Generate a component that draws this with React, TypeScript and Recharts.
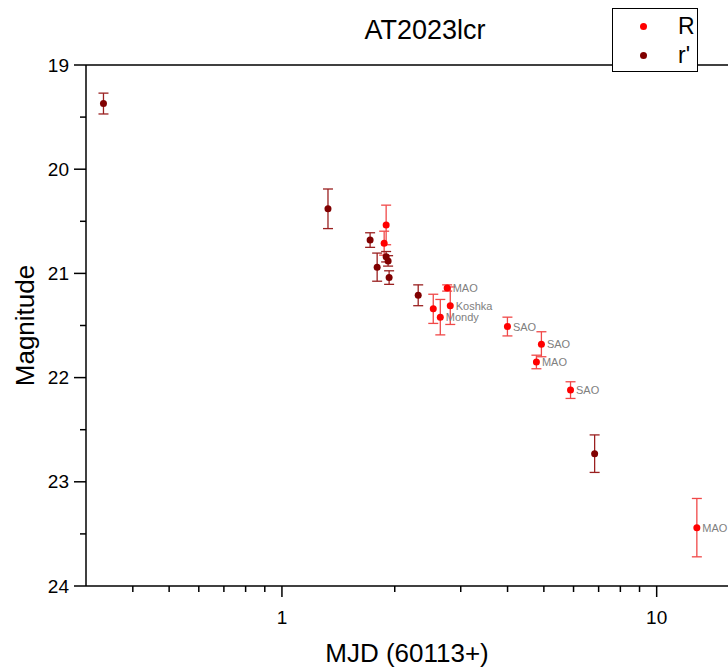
import React from 'react';
import {
  ScatterChart,
  Scatter,
  XAxis,
  YAxis,
  ErrorBar,
  LabelList,
  Label,
  Legend,
  ReferenceLine,
} from 'recharts';

// r' band (dark red)
const rpMjd = [0.334, 1.327, 1.719, 1.795, 1.897, 1.92, 1.932, 2.31, 6.83];
const rpMag = [19.37, 20.38, 20.68, 20.94, 20.84, 20.88, 21.04, 21.21, 22.73];
const rpErr = [0.1, 0.19, 0.07, 0.135, 0.05, 0.05, 0.065, 0.1, 0.18];

// R band (red)
const rMjd = [1.897, 1.874, 2.76, 2.534, 2.646, 2.813, 3.997, 4.925, 4.776, 5.89, 12.8];
const rMag = [20.535, 20.71, 21.14, 21.34, 21.42, 21.31, 21.51, 21.68, 21.85, 22.12, 23.44];
const rErr = [0.19, 0.115, 0.03, 0.14, 0.17, 0.18, 0.09, 0.12, 0.065, 0.08, 0.28];
const rLabel = ['', '', 'MAO', '', 'Mondy', 'Koshka', 'SAO', 'SAO', 'MAO', 'SAO', 'MAO'];

const xTicks = [0.4, 0.5, 0.6, 0.7, 0.8, 0.9, 1, 2, 3, 4, 5, 6, 7, 8, 9, 10];
const xMajor = [1, 10];
const yTicks = [19, 19.5, 20, 20.5, 21, 21.5, 22, 22.5, 23, 23.5, 24];

const rpData = rpMjd.map((x, i) => ({ x, y: rpMag[i], err: rpErr[i] }));
const rData = rMjd.map((x, i) => ({ x, y: rMag[i], err: rErr[i], label: rLabel[i] }));

const FONT = '"Liberation Sans", Arial, sans-serif';

const XTick = (props: any) => {
  const { x, y, payload } = props;
  const major = xMajor.includes(payload.value);
  return (
    <g>
      <line x1={x} y1={y} x2={x} y2={y + (major ? 11 : 6)} stroke="#000" strokeWidth={1.5} />
      {major && (
        <text x={x} y={y + 31} textAnchor="middle" dominantBaseline="central" fontSize={19} fontFamily={FONT} fill="#000">
          {payload.value}
        </text>
      )}
    </g>
  );
};

const YTick = (props: any) => {
  const { x, y, payload } = props;
  const major = Number.isInteger(payload.value);
  return (
    <g>
      <line x1={x} y1={y} x2={x - (major ? 12 : 6)} y2={y} stroke="#000" strokeWidth={1.5} />
      {major && (
        <text x={x - 17} y={y} textAnchor="end" dominantBaseline="central" fontSize={19} fontFamily={FONT} fill="#000">
          {payload.value}
        </text>
      )}
    </g>
  );
};

const dot = (color: string) => (props: any) =>
  <circle cx={props.cx} cy={props.cy} r={3.5} fill={color} />;

const PointLabel = (props: any) => {
  const { x, y, width, height, value } = props;
  if (!value) return null;
  return (
    <text
      x={x + width + 1}
      y={y + height / 2}
      dominantBaseline="central"
      fontSize={11}
      fontFamily={FONT}
      fill="#808080"
    >
      {value}
    </text>
  );
};

const LegendBox = (props: any) => {
  const { payload } = props;
  return (
    <div
      style={{
        width: 86,
        height: 64,
        border: '1px solid #000',
        background: '#fff',
        fontFamily: FONT,
        boxSizing: 'border-box',
        paddingTop: 3,
      }}
    >
      {(payload || []).map((p: any) => (
        <div key={p.value} style={{ display: 'flex', alignItems: 'center', height: 29 }}>
          <span
            style={{
              flex: '0 0 7px',
              width: 7,
              height: 7,
              borderRadius: '50%',
              background: p.color,
              marginLeft: 27,
              marginRight: 31,
            }}
          />
          <span style={{ fontSize: 23 }}>{p.value}</span>
        </div>
      ))}
    </div>
  );
};

export default function App() {
  return (
    <div style={{ position: 'absolute', left: 0, top: 0, width: 728, height: 671, background: '#fff' }}>
      <div
        style={{
          position: 'absolute',
          left: 425,
          top: 15,
          transform: 'translateX(-50%)',
          fontFamily: FONT,
          fontSize: 27,
          whiteSpace: 'nowrap',
        }}
      >
        AT2023lcr
      </div>
      <ScatterChart width={728} height={671} margin={{ top: 65, right: 0, bottom: 0, left: 0 }}>
        <XAxis
          dataKey="x"
          type="number"
          scale="log"
          domain={[0.3, 15.5]}
          allowDataOverflow
          ticks={xTicks}
          interval={0}
          tick={<XTick />}
          tickLine={false}
          tickSize={0}
          tickMargin={0}
          height={85}
          axisLine={{ stroke: '#000', strokeWidth: 1.5 }}
        >
          <Label
            value="MJD (60113+)"
            position="insideBottom"
            offset={9}
            style={{ fontSize: 26, fontFamily: FONT, fill: '#000' }}
          />
        </XAxis>
        <YAxis
          dataKey="y"
          type="number"
          reversed
          domain={[19, 24]}
          allowDataOverflow
          ticks={yTicks}
          interval={0}
          tick={<YTick />}
          tickLine={false}
          tickSize={0}
          tickMargin={0}
          width={86}
          axisLine={{ stroke: '#000', strokeWidth: 1.5 }}
        >
          <Label
            value="Magnitude"
            angle={-90}
            position="insideLeft"
            offset={25}
            style={{ fontSize: 26, fontFamily: FONT, fill: '#000', textAnchor: 'middle' }}
          />
        </YAxis>
        <ReferenceLine y={19} stroke="#000" strokeWidth={1.5} />
        <Legend
          layout="horizontal"
          verticalAlign="middle"
          align="center"
          content={<LegendBox />}
          wrapperStyle={{ position: 'absolute', left: 612, top: 8, width: 86, height: 64 }}
        />
        <Scatter name="R" data={rData} fill="#ff0000" shape={dot('#ff0000')} isAnimationActive={false}>
          <ErrorBar dataKey="err" direction="y" width={5} stroke="#f04848" strokeWidth={1.3} />
          <LabelList dataKey="label" content={<PointLabel />} />
        </Scatter>
        <Scatter name="r'" data={rpData} fill="#800000" shape={dot('#800000')} isAnimationActive={false}>
          <ErrorBar dataKey="err" direction="y" width={5} stroke="#9a2020" strokeWidth={1.3} />
        </Scatter>
      </ScatterChart>
    </div>
  );
}
